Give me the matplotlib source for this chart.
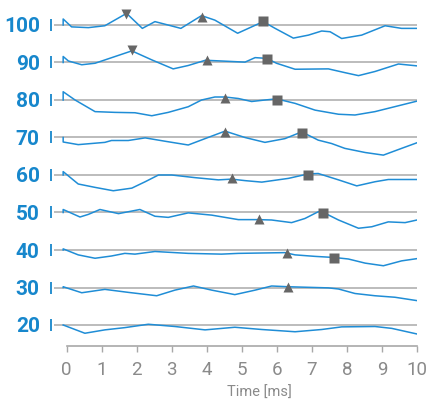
import numpy as np
import matplotlib
matplotlib.use("Agg")
import matplotlib.pyplot as plt

# ---------------- data ----------------
levels = [100, 90, 80, 70, 60, 50, 40, 30, 20]

# each trace: x positions (ms) and offsets from its baseline level
x100 = [-0.1, -0.1, 0.14, 0.62, 1.09, 1.71, 2.16, 2.52, 2.81, 3.26, 3.85, 4.23, 4.88, 5.61, 5.95, 6.47, 6.90, 7.28, 7.52, 7.85, 8.42, 9.09, 9.56, 10.0]
y100 = [0.0, 1.6, -0.5, -0.7, -0.2, 3.1, -0.9, 0.9, 0.2, -0.9, 2.5, 1.3, -2.2, 0.9, -0.9, -3.5, -2.7, -1.6, -1.8, -3.6, -2.7, -0.2, -0.9, -0.9]

x90 = [-0.1, -0.1, 0.05, 0.43, 0.81, 1.86, 2.43, 3.04, 3.47, 3.96, 4.42, 5.09, 5.38, 5.71, 5.99, 6.52, 7.47, 7.94, 8.33, 8.80, 9.47, 10.0]
y90 = [0.0, 1.6, 0.4, -0.6, -0.2, 3.1, 0.7, -1.7, -0.8, 0.6, 0.4, 0.1, 1.3, 1.1, -0.2, -1.8, -1.7, -2.7, -3.5, -2.4, -0.4, -0.9]

x80 = [-0.1, -0.1, 0.24, 0.81, 1.38, 1.95, 2.43, 2.90, 3.47, 3.85, 4.23, 4.52, 4.90, 5.28, 5.66, 5.99, 6.52, 7.09, 7.76, 8.23, 8.80, 10.0]
y80 = [0.0, 2.2, 0.0, -3.1, -3.3, -3.4, -4.2, -3.3, -1.8, 0.0, 0.8, 0.8, 0.4, -0.4, 0.0, 0.3, -0.9, -2.7, -3.8, -4.0, -3.1, -0.3]

x70 = [-0.1, -0.1, 0.33, 1.09, 1.28, 1.76, 2.24, 2.81, 3.47, 3.95, 4.52, 5.09, 5.66, 6.23, 6.71, 7.18, 7.56, 7.94, 8.52, 9.04, 9.56, 10.0]
y70 = [0.0, -1.2, -1.9, -1.3, -0.8, -0.8, -0.1, -1.0, -2.0, -0.3, 1.7, 0.0, -1.3, -0.3, 1.5, -0.7, -1.6, -2.9, -4.0, -4.7, -2.9, -1.4]

x60 = [-0.1, -0.1, 0.33, 0.81, 1.33, 1.86, 2.24, 2.62, 3.0, 3.66, 4.33, 4.71, 5.09, 5.57, 6.33, 6.90, 7.18, 7.76, 8.28, 8.80, 9.18, 10.0]
y60 = [0.0, 0.9, -2.4, -3.3, -4.2, -3.5, -1.8, 0.0, 0.0, -0.7, -1.3, -1.1, -1.5, -1.9, -0.9, 0.3, 0.4, -1.3, -2.9, -1.8, -1.2, -1.2]

x50 = [-0.1, -0.1, 0.38, 0.62, 0.95, 1.48, 2.09, 2.52, 2.90, 3.47, 4.14, 4.90, 5.47, 5.85, 6.42, 6.80, 7.18, 7.33, 7.76, 8.33, 8.71, 9.18, 9.66, 10.0]
y50 = [0.0, 0.8, -1.2, -0.5, 0.8, -0.3, 0.8, -1.0, -1.3, -0.1, -0.7, -1.9, -1.9, -2.0, -2.7, -1.6, 0.2, 0.0, -2.0, -4.2, -3.8, -2.5, -2.7, -2.0]

x40 = [-0.1, -0.1, 0.33, 0.81, 1.28, 1.66, 1.95, 2.52, 3.47, 4.42, 4.90, 6.23, 6.52, 7.09, 7.64, 8.04, 8.52, 9.04, 9.56, 10.0]
y40 = [0.0, 0.3, -1.3, -2.2, -1.6, -0.9, -1.1, -0.4, -0.9, -1.1, -0.9, -0.7, -1.3, -1.7, -2.0, -2.4, -3.5, -4.2, -2.9, -2.3]

x30 = [-0.1, -0.1, 0.43, 1.09, 1.76, 2.57, 3.09, 3.62, 4.14, 4.80, 5.38, 5.85, 6.33, 7.47, 7.76, 8.23, 8.80, 9.37, 10.0]
y30 = [0.0, 0.2, -1.4, -0.5, -1.3, -2.2, -0.7, 0.4, -0.7, -1.9, -0.7, 0.4, 0.2, -0.1, -0.4, -1.6, -2.2, -2.6, -3.5]

x20 = [-0.1, -0.1, 0.52, 1.09, 1.66, 2.33, 3.09, 3.95, 4.80, 5.57, 6.52, 7.28, 7.85, 8.80, 9.28, 10.0]
y20 = [0.0, 0.0, -2.2, -1.3, -0.7, 0.2, -0.4, -1.3, -0.6, -1.2, -1.8, -1.2, -0.5, -0.4, -0.9, -2.4]

xs_all = [x100, x90, x80, x70, x60, x50, x40, x30, x20]
ys_all = [y100, y90, y80, y70, y60, y50, y40, y30, y20]

# markers: (level, x, offset)
down_lvl = [100, 90]
down_x = [1.69, 1.86]
down_off = [2.8, 3.2]

up_lvl = [100, 90, 80, 70, 60, 50, 40, 30]
up_x = [3.87, 4.00, 4.52, 4.52, 4.71, 5.49, 6.28, 6.33]
up_off = [2.2, 0.7, 0.4, 1.5, -0.9, -1.7, -0.9, 0.2]

sq_lvl = [100, 90, 80, 70, 60, 50, 40]
sq_x = [5.61, 5.71, 6.01, 6.71, 6.90, 7.33, 7.64]
sq_off = [1.1, 1.0, 0.1, 1.1, 0.1, -0.2, -2.0]

xticks = list(range(0, 11))
xlabel = "Time [ms]"

# ---------------- style ----------------
BLUE = "#1f8dd6"
TICKBLUE = "#1787cc"
GRID = "#b0b0b0"
MARK = "#666666"
AXGRAY = "#a8a8a8"
TXTGRAY = "#8a8a8a"

plt.rcParams['font.family'] = ['Roboto', 'DejaVu Sans']

fig = plt.figure(figsize=(4.30, 4.01), dpi=100)
ax = fig.add_axes([50.9 / 430, 55 / 401, 366.1 / 430, 343.5 / 401])
ax.set_xlim(-0.45, 10.0)
ax.set_ylim(14.4, 106.0)

# baselines
ax.hlines(levels, -0.36, 10.0, color=GRID, lw=1.2, zorder=1)

# traces
for lvl, xs, ys in zip(levels, xs_all, ys_all):
    ax.plot(xs, np.array(ys) + lvl, color=BLUE, lw=1.1, zorder=2,
            solid_joinstyle='round')

ax.plot(down_x, np.array(down_lvl) + np.array(down_off), 'v', color=MARK,
        ms=7.5, mec='none', zorder=3, ls='none')
ax.plot(up_x, np.array(up_lvl) + np.array(up_off), '^', color=MARK,
        ms=7.5, mec='none', zorder=3, ls='none')
ax.plot(sq_x, np.array(sq_lvl) + np.array(sq_off), 's', color=MARK,
        ms=6.5, mec='none', zorder=3, ls='none')

# y tick bars
ax.plot([-0.45] * len(levels), levels, '|', color=TICKBLUE, ms=8.5, mew=1.3,
        clip_on=False, zorder=3, ls='none')

# axes styling
for s in ['top', 'right', 'left']:
    ax.spines[s].set_visible(False)
ax.spines['bottom'].set_bounds(0, 10)
ax.spines['bottom'].set_color(AXGRAY)
ax.spines['bottom'].set_linewidth(1.2)

ax.set_xticks(xticks)
ax.set_xticklabels([str(t) for t in xticks])
ax.tick_params(axis='x', length=4.5, width=1.0, color=AXGRAY, labelcolor=TXTGRAY,
               labelsize=13.5, pad=6)

ax.set_yticks(levels)
ax.set_yticklabels([str(l) for l in levels])
ax.tick_params(axis='y', length=0, labelcolor=TICKBLUE, labelsize=15, pad=8)
for lab in ax.get_yticklabels():
    lab.set_fontweight('bold')

fig.text(259 / 430, 1 - 396.5 / 401, xlabel, ha='center', va='baseline',
         fontsize=10.5, color=TXTGRAY)

fig.savefig("out.png", dpi=100)
